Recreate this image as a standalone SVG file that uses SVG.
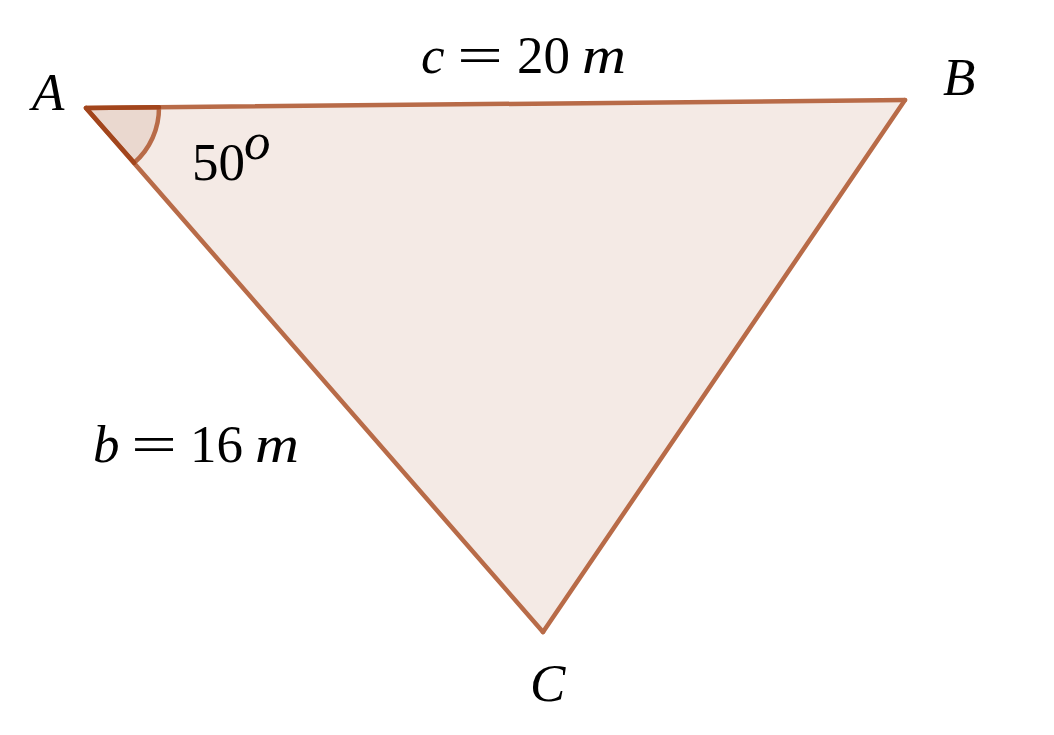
<svg xmlns="http://www.w3.org/2000/svg" width="1054" height="735" viewBox="0 0 1054 735">
<style>
.t{font-family:"Liberation Serif","Times New Roman",serif;font-size:53px;fill:#000}
.i{font-style:italic}
.side{stroke:#b86b48;stroke-width:4.5;stroke-linecap:round;fill:none}
</style>
<rect width="1054" height="735" fill="#fff"/>
<g id="triangle">
<polygon points="86,108 905,100 543,632" fill="#f4eae5" stroke="none"/>
</g>
<g id="angle-A">
<path d="M86,108 L159,107.3 A73,73 0 0 1 134.2,162.8 Z" fill="#ead8cf" stroke="none"/>
<path d="M159,107.3 A73,73 0 0 1 134.2,162.8" class="side"/>
</g>
<g id="connectors">
<line class="side" x1="86" y1="108" x2="905" y2="100"/>
<line class="side" x1="905" y1="100" x2="543" y2="632"/>
<line class="side" x1="543" y1="632" x2="86" y2="108"/>
<path d="M134.2,162.8 L86,108 L159,107.3" stroke="#a2451c" stroke-width="4.5" fill="none" stroke-linecap="round" stroke-linejoin="round"/>
</g>
<g id="labels">
<text class="t i" x="32" y="110">A</text>
<text class="t i" x="943" y="95">B</text>
<text class="t i" x="530" y="701">C</text>
<text class="t" x="192" y="180">50</text>
<text class="t i" x="244" y="159" font-size="31">o</text>
<g id="label-c">
<text class="t i" x="421" y="73">c</text>
<text class="t" x="457" y="73" textLength="46" lengthAdjust="spacingAndGlyphs">=</text>
<text class="t" x="517" y="73">20</text>
<text class="t i" x="582" y="73" textLength="44" lengthAdjust="spacingAndGlyphs">m</text>
</g>
<g id="label-b">
<text class="t i" x="93" y="462">b</text>
<text class="t" x="131" y="462" textLength="46" lengthAdjust="spacingAndGlyphs">=</text>
<text class="t" x="190" y="462">16</text>
<text class="t i" x="255" y="462" textLength="44" lengthAdjust="spacingAndGlyphs">m</text>
</g>
</g>
</svg>
